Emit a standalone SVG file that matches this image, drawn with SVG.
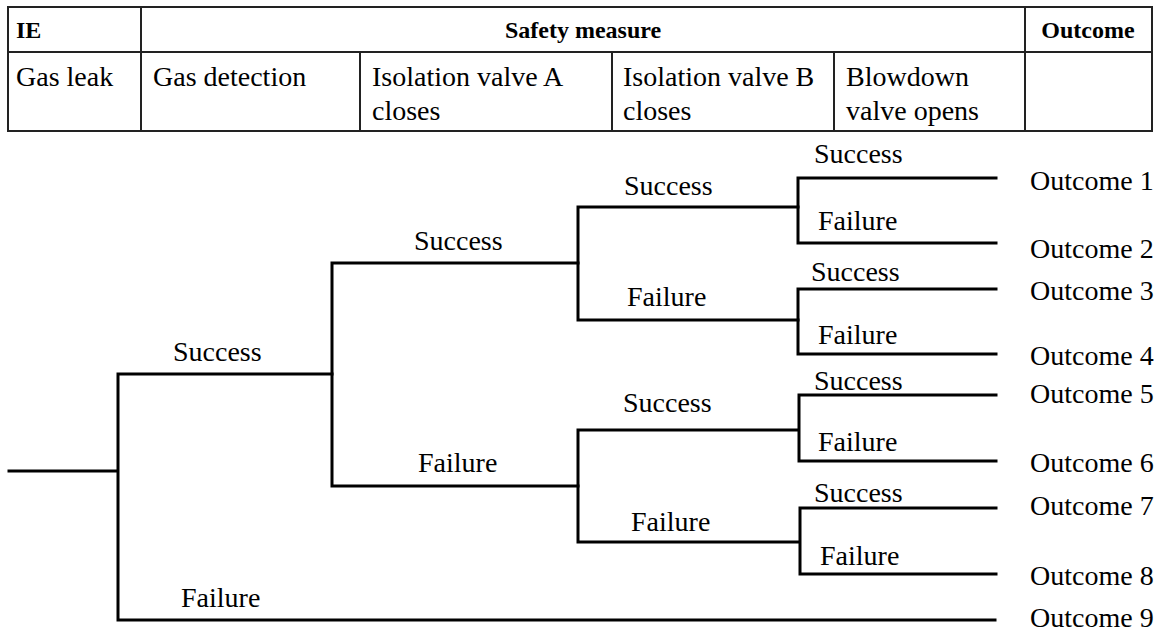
<svg xmlns="http://www.w3.org/2000/svg" width="1161" height="633" viewBox="0 0 1161 633">
<style>
text{font-size:28px;fill:#000}
.b{font-weight:bold;font-size:24px}
.grid{stroke:#222;stroke-width:2;fill:none}
.br{stroke:#000;stroke-width:3;fill:none;stroke-linecap:square}
</style>
<rect width="1161" height="633" fill="#fff"/>
<g font-family="Liberation Serif">
<g id="table">
<rect class="grid" x="8" y="7" width="1144" height="124"/>
<path class="grid" d="M8 52H1152M141 7V131M1025 7V131M360 52V131M612 52V131M834 52V131"/>
<text class="b" x="16" y="38">IE</text>
<text class="b" x="583" y="38" text-anchor="middle">Safety measure</text>
<text class="b" x="1088" y="38" text-anchor="middle">Outcome</text>
<text x="16" y="86">Gas leak</text>
<text x="153" y="86">Gas detection</text>
<text x="372" y="86">Isolation valve A</text>
<text x="372" y="120">closes</text>
<text x="623" y="86">Isolation valve B</text>
<text x="623" y="120">closes</text>
<text x="846" y="86">Blowdown</text>
<text x="846" y="120">valve opens</text>
</g>
<g id="connectors">
<path class="br" d="M9 471H118M118 374V620M118 374H332M118 620H995"/>
<path class="br" d="M332 263V486M332 263H578M332 486H578"/>
<path class="br" d="M578 207V320M578 207H798M578 320H798"/>
<path class="br" d="M578 430V542M578 430H798M578 542H798"/>
<path class="br" d="M798 178V243M798 178H996M798 243H996"/>
<path class="br" d="M798 289V354M798 289H996M798 354H996"/>
<path class="br" d="M799 395V461M799 395H996M799 461H996"/>
<path class="br" d="M800 508V574M800 508H996M800 574H996"/>
</g>
<g id="labels">
<text x="173" y="361">Success</text>
<text x="181" y="607">Failure</text>
<text x="414" y="250">Success</text>
<text x="418" y="472">Failure</text>
<text x="624" y="195">Success</text>
<text x="627" y="306">Failure</text>
<text x="623" y="412">Success</text>
<text x="631" y="531">Failure</text>
<text x="814" y="163">Success</text>
<text x="818" y="230">Failure</text>
<text x="811" y="281">Success</text>
<text x="818" y="344">Failure</text>
<text x="814" y="390">Success</text>
<text x="818" y="451">Failure</text>
<text x="814" y="502">Success</text>
<text x="820" y="565">Failure</text>
</g>
<g id="outcomes">
<text x="1030" y="190">Outcome 1</text>
<text x="1030" y="258">Outcome 2</text>
<text x="1030" y="300">Outcome 3</text>
<text x="1030" y="365">Outcome 4</text>
<text x="1030" y="403">Outcome 5</text>
<text x="1030" y="472">Outcome 6</text>
<text x="1030" y="515">Outcome 7</text>
<text x="1030" y="585">Outcome 8</text>
<text x="1030" y="627">Outcome 9</text>
</g>
</g>
</svg>
